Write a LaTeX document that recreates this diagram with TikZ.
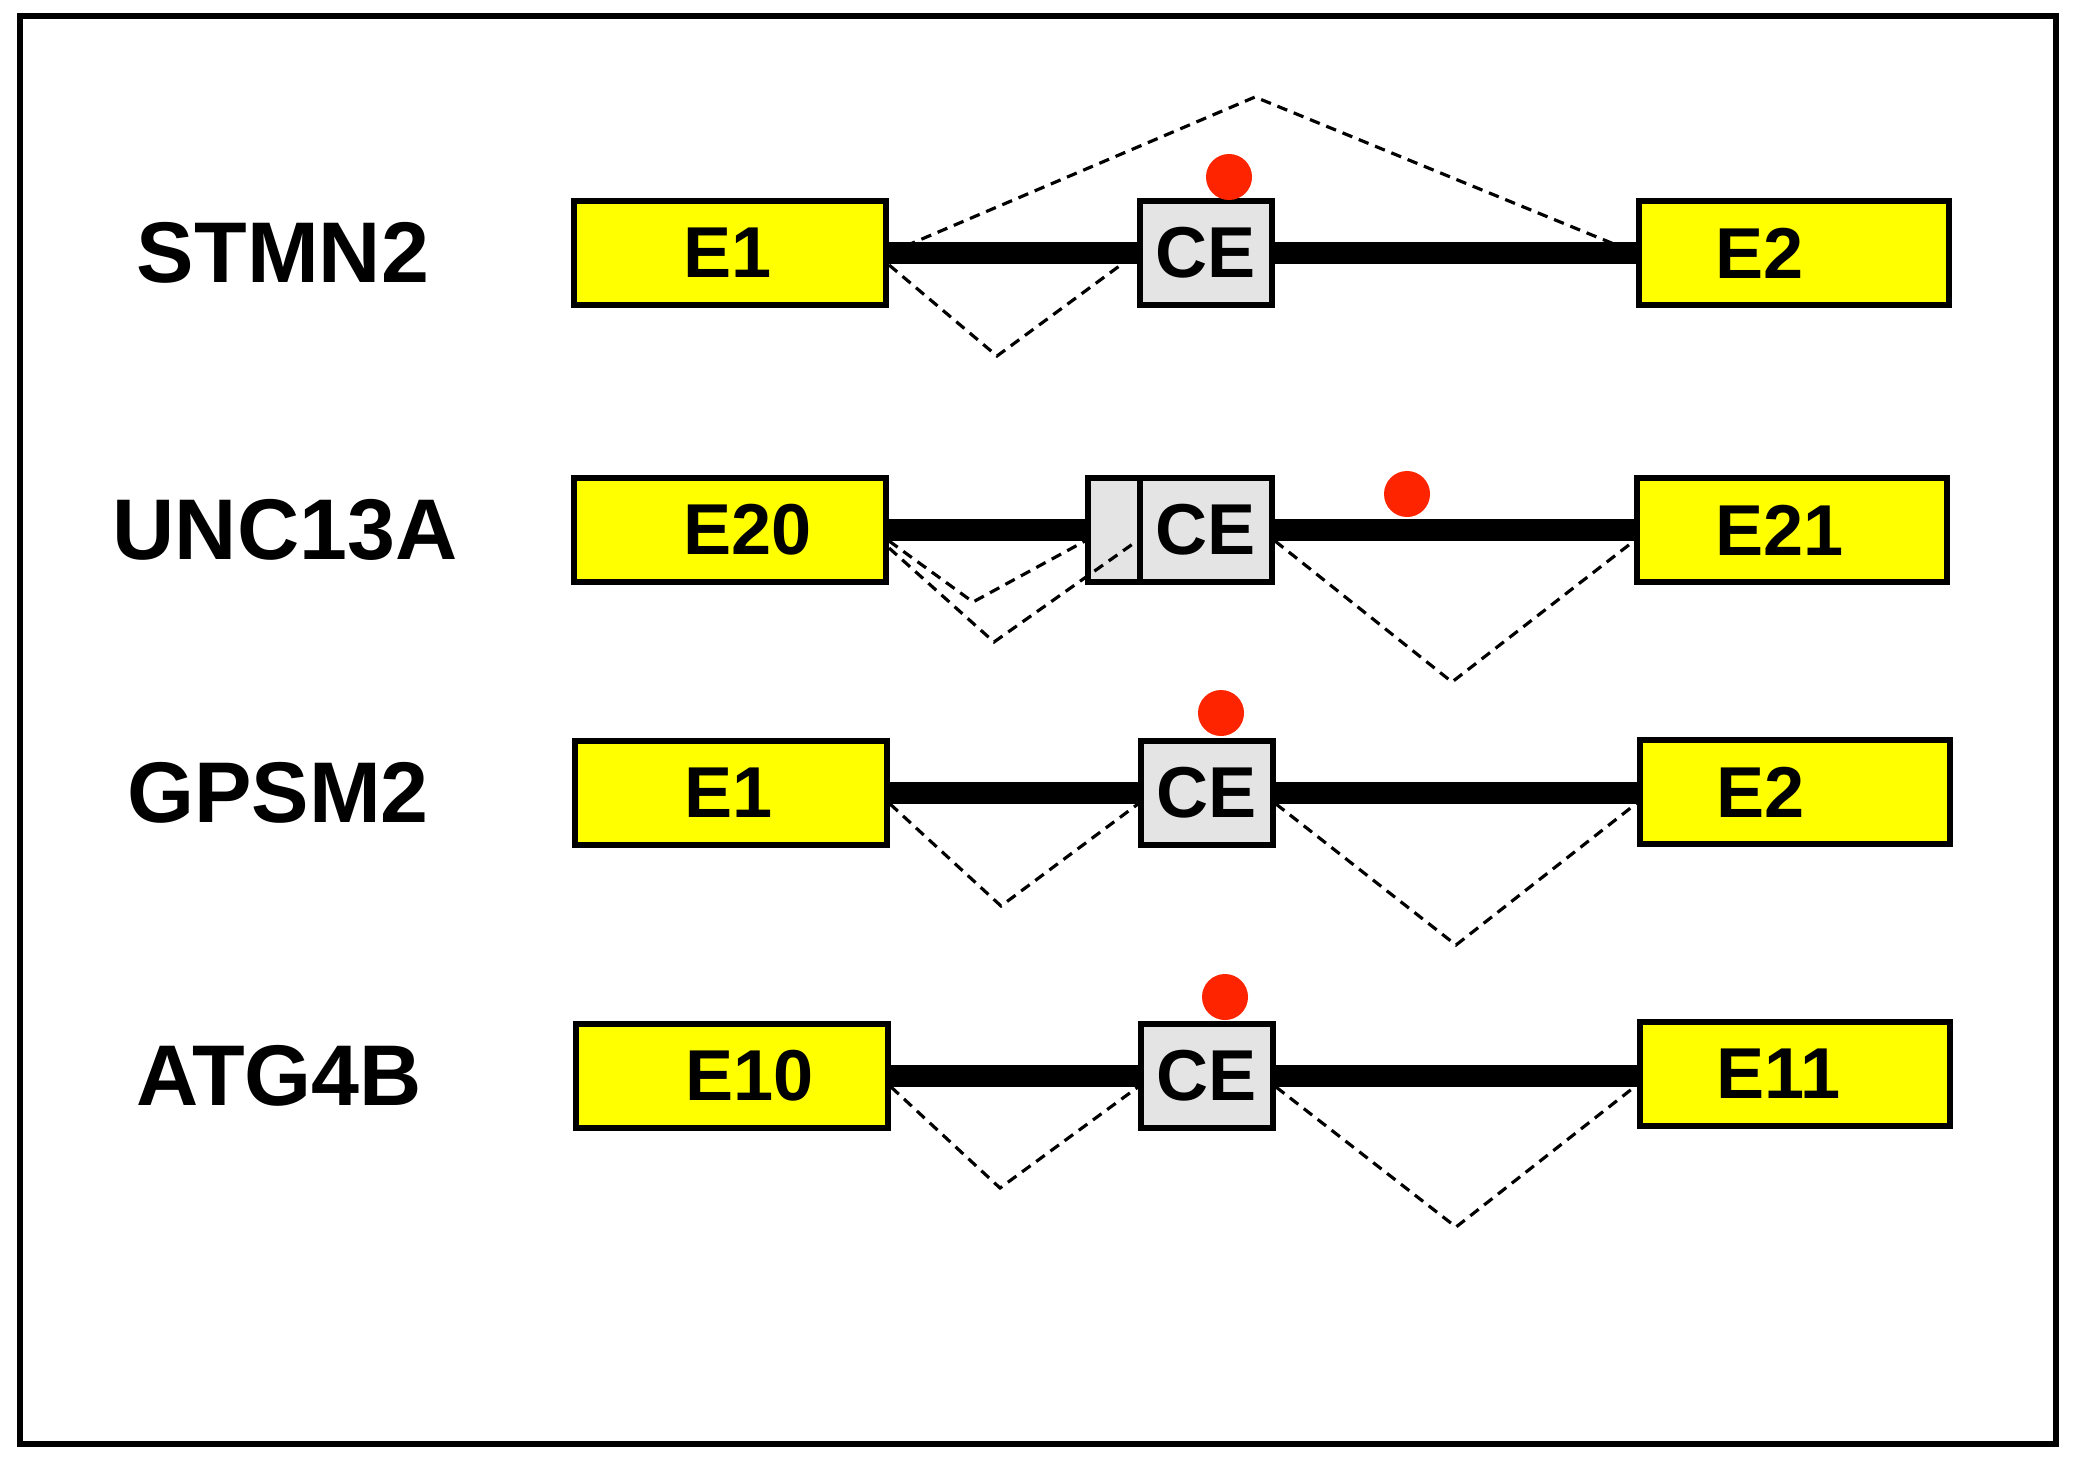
\documentclass[tikz,border=0pt]{standalone}
\usepackage{fontspec}
\setmainfont{Liberation Sans}
\usetikzlibrary{calc}
\definecolor{exonyellow}{RGB}{255,255,0}
\definecolor{cegray}{RGB}{228,228,228}
\definecolor{dotred}{RGB}{255,36,0}
\tikzset{
  exon/.style={draw=black, line width=1.7pt, fill=exonyellow, minimum height=1.04cm, inner sep=0pt},
  ebig/.style={exon, minimum width=3.12cm},
  eright/.style={exon, minimum width=3.10cm},
  cebox/.style={draw=black, line width=1.7pt, fill=cegray, minimum height=1.04cm, minimum width=1.32cm, inner sep=0pt,
    font=\fontsize{20.5}{24}\selectfont\bfseries},
  extbox/.style={draw=black, line width=1.7pt, fill=cegray, minimum height=1.04cm, minimum width=0.52cm, inner sep=0pt},
  etext/.style={inner sep=0pt, anchor=west, font=\fontsize{20.5}{24}\selectfont\bfseries},
  genelabel/.style={inner sep=0pt, font=\fontsize{24.5}{29}\selectfont\bfseries},
  intron/.style={line width=6pt, black},
  splice/.style={line width=0.9pt, black, dash pattern=on 3pt off 2pt},
  reddot/.style={circle, fill=dotred, draw=none, minimum size=0.46cm, inner sep=0pt},
  frame/.style={line width=1.7pt, black}
}
\begin{document}
\begin{tikzpicture}[x=0.01cm, y=-0.01cm]
\useasboundingbox (0,0) rectangle (2076,1463);
\draw[frame] (20,16) rectangle (2056,1444);

% ---------------- STMN2 ----------------
\node[genelabel] (l1) at (283,253) {STMN2};
\node[ebig] (a1) at (730,253) {};
\node[etext] (a1t) at (683,253) {E1};
\node[cebox] (ace) at (1206,253) {CE};
\node[eright] (a2) at (1794,253) {};
\node[etext] (a2t) at (1715,253) {E2};
\coordinate (apeak) at (1255,97);
\coordinate (avalley) at (997,356);
\draw[splice] (a1.east) -- (apeak) -- (a2.west);
\draw[splice] ([yshift=-0.12cm]a1.east) -- (avalley) -- (ace.west);
\draw[intron] (a1.east) -- (ace.west);
\draw[intron] (ace.east) -- (ace.east -| a2.west);
\node[reddot] (adot) at (1229,177) {};

% ---------------- UNC13A ----------------
\node[genelabel] (l2) at (285,530) {UNC13A};
\node[ebig] (b1) at (730,530) {};
\node[etext] (b1t) at (683,530) {E20};
\node[extbox] (bext) at (1114,530) {};
\node[cebox] (bce) at (1206,530) {CE};
\node[eright] (b2) at (1792,530) {};
\node[etext] (b2t) at (1715,530) {E21};
\coordinate (bv1) at (973,602);
\coordinate (bv2) at (994,642);
\coordinate (bv3) at (1452,682);
\draw[splice] ([yshift=-0.11cm]b1.east) -- (bv1) -- ([yshift=-0.11cm]bext.west);
\draw[splice] ([yshift=-0.18cm]b1.east) -- (bv2) -- ([yshift=-0.11cm]bce.west);
\draw[splice] ([yshift=-0.11cm]bce.east) -- (bv3) -- ([yshift=-0.11cm]b2.west);
\draw[intron] (b1.east) -- (bext.west);
\draw[intron] (bce.east) -- (bce.east -| b2.west);
\node[reddot] (bdot) at (1407,494) {};

% ---------------- GPSM2 ----------------
\node[genelabel] (l3) at (278,793) {GPSM2};
\node[ebig] (c1) at (731,793) {};
\node[etext] (c1t) at (684,793) {E1};
\node[cebox] (cce) at (1207,793) {CE};
\node[eright] (c2) at (1795,792) {};
\node[etext] (c2t) at (1716,792) {E2};
\coordinate (cv1) at (1001,906);
\coordinate (cv2) at (1456,945);
\draw[splice] ([yshift=-0.11cm]c1.east) -- (cv1) -- ([yshift=-0.11cm]cce.west);
\draw[splice] ([yshift=-0.11cm]cce.east) -- (cv2) -- ([yshift=-0.11cm]c2.west);
\draw[intron] (c1.east) -- (cce.west);
\draw[intron] (cce.east) -- (cce.east -| c2.west);
\node[reddot] (cdot) at (1221,713) {};

% ---------------- ATG4B ----------------
\node[genelabel] (l4) at (279,1076) {ATG4B};
\node[ebig] (d1) at (732,1076) {};
\node[etext] (d1t) at (685,1076) {E10};
\node[cebox] (dce) at (1207,1076) {CE};
\node[eright] (d2) at (1795,1074) {};
\node[etext] (d2t) at (1716,1074) {E11};
\coordinate (dv1) at (1000,1188);
\coordinate (dv2) at (1456,1227);
\draw[splice] ([yshift=-0.11cm]d1.east) -- (dv1) -- ([yshift=-0.11cm]dce.west);
\draw[splice] ([yshift=-0.11cm]dce.east) -- (dv2) -- ([yshift=-0.11cm]d2.west);
\draw[intron] (d1.east) -- (dce.west);
\draw[intron] (dce.east) -- (dce.east -| d2.west);
\node[reddot] (ddot) at (1225,997) {};
\end{tikzpicture}
\end{document}
